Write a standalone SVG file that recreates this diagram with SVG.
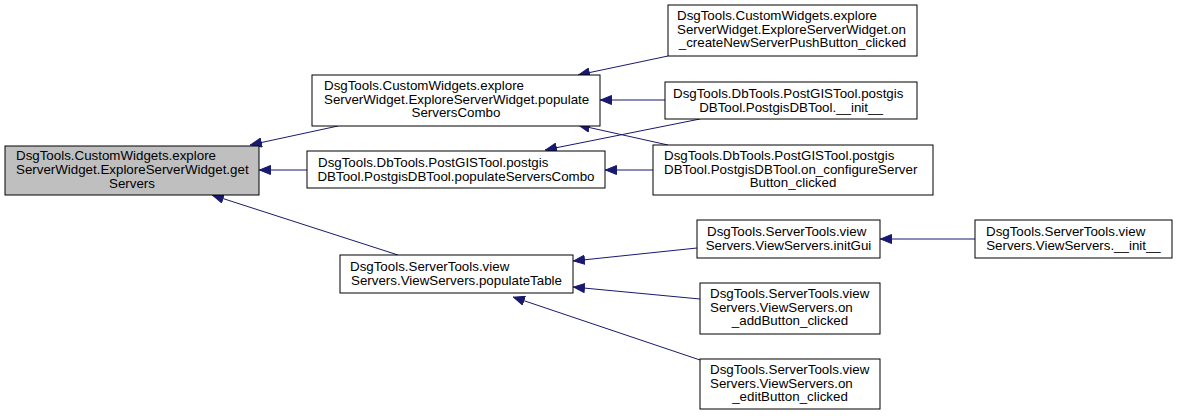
<svg xmlns="http://www.w3.org/2000/svg" width="1178" height="416" viewBox="0 0 1178 416">
<style>
.n rect{fill:#ffffff;stroke:#000000;stroke-width:1}
.n.root rect{fill:#bfbfbf}
.n text{font-family:"Liberation Sans",Arial,Helvetica,sans-serif;font-size:13.33px;fill:#000000}
.n text.c{text-anchor:middle}
.e line{stroke:#191970;stroke-width:1;fill:none}
</style>
<defs>
<marker id="ah" viewBox="0 -5 12 10" refX="12" refY="0" markerWidth="12" markerHeight="10" markerUnits="userSpaceOnUse" orient="auto">
<path d="M0.5,-4.5 L11.5,0 L0.5,4.5 z" fill="#191970" stroke="#191970" stroke-width="1"/>
</marker>
</defs>
<rect width="1178" height="416" fill="#ffffff"/>
<g id="edges" class="e">
<line x1="338" y1="126" x2="250" y2="145" marker-end="url(#ah)"/>
<line x1="307" y1="170" x2="259" y2="170" marker-end="url(#ah)"/>
<line x1="398" y1="255" x2="212" y2="195" marker-end="url(#ah)"/>
<line x1="668" y1="56" x2="578" y2="75" marker-end="url(#ah)"/>
<line x1="665" y1="100" x2="600" y2="100" marker-end="url(#ah)"/>
<line x1="668" y1="145" x2="578" y2="125" marker-end="url(#ah)"/>
<line x1="700" y1="119" x2="545" y2="150" marker-end="url(#ah)"/>
<line x1="653" y1="170" x2="605" y2="170" marker-end="url(#ah)"/>
<line x1="697" y1="248" x2="573" y2="261" marker-end="url(#ah)"/>
<line x1="700" y1="299" x2="573" y2="287" marker-end="url(#ah)"/>
<line x1="700" y1="360" x2="513" y2="297" marker-end="url(#ah)"/>
<line x1="975" y1="239" x2="880" y2="239" marker-end="url(#ah)"/>
</g>
<g id="nodeA" class="n root">
<rect x="5" y="146" width="254" height="49"/>
<text x="16" y="160">DsgTools.CustomWidgets.explore</text>
<text x="16" y="174">ServerWidget.ExploreServerWidget.get</text>
<text class="c" x="132" y="188">Servers</text>
</g>
<g id="nodeB" class="n">
<rect x="312" y="75" width="288" height="51"/>
<text x="324" y="90">DsgTools.CustomWidgets.explore</text>
<text x="324" y="104">ServerWidget.ExploreServerWidget.populate</text>
<text class="c" x="456" y="117">ServersCombo</text>
</g>
<g id="nodeC" class="n">
<rect x="307" y="151" width="298" height="37"/>
<text x="318" y="167">DsgTools.DbTools.PostGISTool.postgis</text>
<text class="c" x="456" y="181">DBTool.PostgisDBTool.populateServersCombo</text>
</g>
<g id="nodeD" class="n">
<rect x="668" y="5" width="249" height="51"/>
<text x="677" y="20">DsgTools.CustomWidgets.explore</text>
<text x="677" y="34">ServerWidget.ExploreServerWidget.on</text>
<text class="c" x="792.5" y="47">_createNewServerPushButton_clicked</text>
</g>
<g id="nodeE" class="n">
<rect x="665" y="82" width="252" height="37"/>
<text x="673" y="98">DsgTools.DbTools.PostGISTool.postgis</text>
<text class="c" x="791" y="112">DBTool.PostgisDBTool.__init__</text>
</g>
<g id="nodeF" class="n">
<rect x="653" y="145" width="280" height="50"/>
<text x="664" y="160">DsgTools.DbTools.PostGISTool.postgis</text>
<text x="664" y="174">DBTool.PostgisDBTool.on_configureServer</text>
<text class="c" x="793" y="187">Button_clicked</text>
</g>
<g id="nodeG" class="n">
<rect x="340" y="255" width="233" height="38"/>
<text x="350" y="271">DsgTools.ServerTools.view</text>
<text class="c" x="456.5" y="285">Servers.ViewServers.populateTable</text>
</g>
<g id="nodeH" class="n">
<rect x="697" y="220" width="183" height="38"/>
<text x="707" y="236">DsgTools.ServerTools.view</text>
<text class="c" x="788.5" y="250">Servers.ViewServers.initGui</text>
</g>
<g id="nodeI" class="n">
<rect x="700" y="283" width="180" height="51"/>
<text x="710" y="298">DsgTools.ServerTools.view</text>
<text x="710" y="312">Servers.ViewServers.on</text>
<text class="c" x="790" y="325">_addButton_clicked</text>
</g>
<g id="nodeJ" class="n">
<rect x="700" y="359" width="180" height="50"/>
<text x="710" y="374">DsgTools.ServerTools.view</text>
<text x="710" y="388">Servers.ViewServers.on</text>
<text class="c" x="790" y="401">_editButton_clicked</text>
</g>
<g id="nodeK" class="n">
<rect x="975" y="220" width="197" height="38"/>
<text x="986" y="236">DsgTools.ServerTools.view</text>
<text class="c" x="1073.5" y="250">Servers.ViewServers.__init__</text>
</g>
</svg>
